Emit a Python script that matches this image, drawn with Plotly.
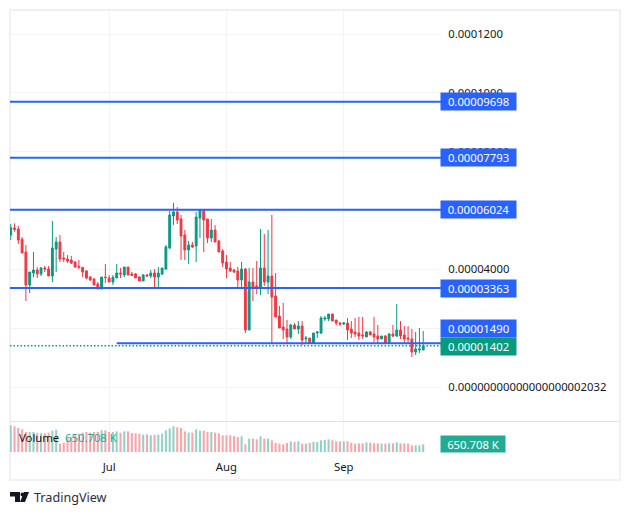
import pandas as pd
import plotly.graph_objects as go

# daily candles, prices in millionths (1e-6)
dates = pd.date_range("2024-06-05", periods=110, freq="D")

opens = [51.68, 54.06, 53.72, 50.2, 45.9, 34.68, 38.76, 39.78, 38.42, 40.46,
         40.12, 37.74, 46.92, 49.3, 43.86, 43.52, 43.18, 42.5, 41.0, 40.7,
         39.44, 37.4, 36.72, 35.02, 33.32, 37.4, 37.06, 35.7, 37.06, 38.76,
         38.08, 40.8, 38.42, 38.42, 37.4, 36.04, 38.08, 37.74, 38.76, 37.4,
         38.42, 40.12, 47.26, 58.14, 59.5, 57.12, 51.68, 46.58, 48.28, 47.94,
         57.46, 60.18, 57.12, 50.66, 53.38, 49.64, 46.24, 42.5, 40.46, 39.78,
         39.44, 36.38, 40.12, 19.38, 35.7, 34.34, 34.0, 40.46, 35.7, 37.74,
         30.94, 24.14, 20.4, 19.72, 17.0, 21.08, 19.72, 20.74, 16.32, 16.66,
         14.96, 18.36, 18.36, 23.12, 23.12, 24.82, 22.78, 21.76, 21.42, 21.76,
         19.72, 18.7, 18.36, 17.68, 17.0, 18.7, 18.02, 17.34, 16.32, 17.34,
         14.96, 18.02, 17.34, 19.38, 17.68, 16.66, 16.32, 11.9, 12.58, 12.58]
highs = [55.42, 55.65, 54.74, 51.0, 48.28, 39.1, 45.9, 40.8, 40.8, 41.14,
         41.14, 56.44, 51.0, 51.68, 45.9, 44.88, 44.54, 42.84, 43.18, 40.8,
         39.78, 37.74, 37.06, 35.7, 37.4, 41.82, 38.08, 38.08, 41.82, 40.46,
         40.8, 40.8, 39.1, 38.76, 37.74, 38.42, 38.42, 39.78, 40.12, 40.8,
         40.46, 48.28, 59.84, 62.56, 61.2, 58.48, 53.38, 49.64, 49.3, 59.5,
         60.52, 60.52, 57.12, 57.12, 55.08, 49.98, 46.92, 44.88, 42.5, 40.12,
         40.8, 42.5, 40.46, 40.46, 40.46, 42.84, 53.72, 52.02, 53.38, 58.48,
         38.76, 27.54, 28.56, 22.78, 21.42, 21.76, 22.44, 22.44, 17.34, 16.66,
         18.36, 19.04, 24.14, 24.14, 24.82, 24.82, 22.78, 22.1, 22.1, 23.46,
         22.44, 23.46, 23.8, 23.8, 19.04, 19.04, 23.8, 21.08, 17.34, 17.68,
         18.36, 21.08, 28.22, 22.44, 20.74, 20.74, 19.72, 18.7, 20.06, 19.04]
lows = [49.98, 52.8, 48.62, 45.56, 29.24, 31.96, 37.3, 37.06, 37.74, 39.1,
        37.74, 35.7, 39.1, 42.5, 42.5, 42.16, 41.82, 40.46, 40.12, 37.4,
        36.72, 36.04, 34.68, 33.32, 33.32, 35.36, 35.7, 34.68, 37.06, 37.06,
        37.4, 38.08, 37.74, 37.06, 36.04, 36.04, 37.74, 37.06, 33.32, 33.66,
        38.08, 39.78, 46.92, 55.08, 55.42, 43.18, 43.18, 41.82, 47.26, 42.5,
        50.66, 45.9, 48.96, 49.3, 49.3, 45.9, 40.8, 37.06, 39.1, 38.76,
        33.66, 33.66, 18.36, 19.38, 29.24, 31.62, 31.28, 34.34, 31.62, 14.96,
        23.8, 20.06, 16.32, 14.96, 16.32, 19.72, 18.02, 14.28, 14.96, 14.62,
        14.96, 16.66, 18.02, 22.44, 22.44, 22.44, 21.08, 20.74, 21.08, 15.98,
        16.66, 17.0, 15.98, 16.32, 17.0, 17.68, 15.3, 14.96, 16.32, 14.96,
        14.96, 17.0, 17.0, 16.32, 14.96, 14.96, 10.2, 10.88, 11.56, 12.58]
closes = [54.17, 53.6, 49.98, 45.56, 34.68, 39.1, 39.78, 38.42, 40.46, 40.12,
          37.74, 47.26, 49.3, 43.52, 43.52, 42.84, 42.16, 40.8, 40.8, 39.1,
          37.06, 36.38, 34.68, 33.32, 37.4, 37.2, 35.7, 37.3, 38.76, 38.42,
          40.8, 38.08, 37.97, 37.06, 36.04, 38.08, 37.74, 38.76, 37.4, 38.76,
          40.46, 47.6, 58.48, 59.5, 56.78, 51.34, 46.58, 48.28, 47.6, 57.8,
          60.18, 56.78, 50.66, 53.38, 49.3, 45.9, 42.16, 40.12, 39.44, 39.1,
          36.38, 40.12, 19.38, 35.7, 34.0, 34.0, 40.46, 35.7, 37.74, 30.6,
          23.8, 20.06, 19.38, 17.0, 21.08, 19.72, 20.74, 15.98, 16.66, 14.96,
          18.36, 18.7, 23.46, 23.46, 24.82, 22.44, 21.76, 21.42, 21.76, 19.38,
          18.36, 18.02, 17.34, 17.34, 18.7, 17.68, 17.0, 16.32, 17.34, 14.96,
          18.02, 17.34, 19.38, 17.34, 16.32, 16.32, 11.9, 12.92, 12.92, 13.94]
# volume in thousands
volumes = [2264, 2179, 2038, 1924, 1698, 1698, 1698, 1613, 1585, 1585,
           1641, 1811, 1868, 708, 792, 1132, 1274, 1415, 1557, 1641,
           1698, 1641, 1698, 1698, 1840, 1840, 1698, 1698, 1755, 1641,
           1755, 1755, 1613, 1585, 1557, 1472, 1500, 1415, 1443, 1472,
           1557, 1840, 2009, 2179, 2094, 2038, 1755, 1641, 1641, 1924,
           1811, 1811, 1698, 1698, 1641, 1585, 1415, 1415, 1415, 1358,
           1274, 1330, 651, 1132, 1132, 1075, 1330, 1132, 1132, 990,
           764, 708, 651, 764, 906, 849, 906, 708, 708, 764,
           849, 849, 990, 1019, 1075, 990, 906, 906, 906, 906,
           792, 708, 736, 736, 821, 792, 736, 736, 708, 708,
           736, 736, 821, 736, 736, 708, 566, 566, 566, 651]

price_ticks = [120, 100, 80, 60, 40, 20, 0]
price_ticklabels = ["0.0001200", "0.0001000", "0.00008000", "0.00006000", "0.00004000",
                    "0.00002000", "0.0000000000000000000" + "2032"]
month_ticks = ["2024-07-01", "2024-08-01", "2024-09-01"]
month_labels = ["Jul", "Aug", "Sep"]

full_levels = [96.98, 77.93, 60.24, 33.63]
full_labels = ["0.00009698", "0.00007793", "0.00006024", "0.00003363"]
short_level = 14.90
short_label = "0.00001490"
short_label_pos = 19.8  # axis label sits above the line, pushed up by the last price
short_start = "2024-07-03"
last_price = 14.02
last_label = "0.00001402"
last_label_pos = 13.8
volume_label = "650.708 K"

BLUE = "#2962ff"
GREEN = "#089981"
RED = "#f23645"
FONT = "Noto Sans"
FS = 11.3
x_range = ["2024-06-04 19:12", "2024-09-26 16:48"]


def fx(px):
    return px / 630


def fy(px):
    return 1 - px / 515


fig = go.Figure()

fig.add_trace(go.Candlestick(x=dates, open=opens, high=highs, low=lows, close=closes,
                             increasing=dict(line=dict(color=GREEN, width=1), fillcolor=GREEN),
                             decreasing=dict(line=dict(color=RED, width=1), fillcolor=RED),
                             whiskerwidth=0, showlegend=False))

vol_colors = ["#92d2c6" if c >= o else "#faa5aa" for o, c in zip(opens, closes)]
fig.add_trace(go.Bar(x=dates, y=volumes, marker=dict(color=vol_colors, line_width=0),
                     width=0.55 * 86400000, yaxis="y2", showlegend=False))

# lines over the candles
for lv in full_levels:
    fig.add_trace(go.Scatter(x=x_range, y=[lv, lv], mode="lines", showlegend=False,
                             line=dict(color=BLUE, width=2)))
fig.add_trace(go.Scatter(x=[short_start, x_range[1]], y=[short_level, short_level], mode="lines",
                         showlegend=False, line=dict(color=BLUE, width=2)))
fig.add_trace(go.Scatter(x=x_range, y=[last_price, last_price], mode="lines", showlegend=False,
                         line=dict(color=GREEN, width=1.5, dash="1.5px,2px")))


def price_box(text, level, color):
    fig.add_annotation(x=fx(440), xref="paper", xanchor="left", y=level, yref="y", yanchor="middle",
                       text=text, showarrow=False, bgcolor=color, width=75, height=17, borderpad=0,
                       font=dict(family=FONT, size=FS, color="white"))


for lab, lv in zip(full_labels, full_levels):
    price_box(lab, lv, BLUE)
price_box(short_label, short_label_pos, BLUE)
price_box(last_label, last_label_pos, GREEN)


def label(text, px, py, size=FS, color="#131722", **kw):
    fig.add_annotation(x=fx(px), xref="paper", xanchor="left", y=fy(py), yref="paper", yanchor="middle",
                       text=text, showarrow=False, font=dict(family=FONT, size=size, color=color), **kw)


# volume legend and its axis box
label("Volume", 17, 437)
label(volume_label, 62.5, 437, color="#22ab94")
label(volume_label, 440, 444, color="white", bgcolor="#22ab94", width=64, height=16, borderpad=0)
label("TradingView", 31.5, 497, size=12.6, color="#2a2e39")

# frame, pane separator, logo
fig.add_shape(type="rect", xref="paper", yref="paper", x0=fx(10), x1=fx(620), y0=fy(480), y1=fy(10),
              line=dict(color="#f0f0f5", width=2), layer="below")
fig.add_shape(type="line", xref="paper", yref="paper", x0=fx(10), x1=fx(620), y0=fy(421.5), y1=fy(421.5),
              line=dict(color="#e0e3eb", width=1), layer="below")
logo = [[(10, 492), (20, 492), (20, 502), (15, 502), (15, 496.5), (10, 496.5)],
        [(24, 492), (29, 492), (25, 502), (20, 502)]]
for poly in logo:
    d = "M " + " L ".join(f"{fx(a):.5f},{fy(b):.5f}" for a, b in poly) + " Z"
    fig.add_shape(type="path", path=d, xref="paper", yref="paper", fillcolor="#131722", line_width=0)
fig.add_shape(type="circle", xref="paper", yref="paper", x0=fx(20.5), x1=fx(24.5), y0=fy(496.5), y1=fy(492.5),
              fillcolor="#131722", line_width=0)

fig.update_layout(width=630, height=515, margin=dict(l=0, r=0, t=0, b=0), autosize=False,
                  paper_bgcolor="white", plot_bgcolor="rgba(0,0,0,0)", showlegend=False,
                  font=dict(family=FONT, size=FS, color="#131722"),
                  xaxis=dict(domain=[fx(10), fx(441)], range=x_range, anchor="y2", type="date",
                             rangeslider=dict(visible=False), tickvals=month_ticks, ticktext=month_labels,
                             showgrid=True, gridcolor="#f3f3f5", gridwidth=1, zeroline=False,
                             ticks="outside", ticklen=4, tickcolor="rgba(0,0,0,0)", showline=False,
                             tickfont=dict(family=FONT, size=FS, color="#131722")),
                  yaxis=dict(domain=[fy(421), fy(11)], range=[-11.56, 127.85], anchor="x", side="right",
                             tickvals=price_ticks, ticktext=price_ticklabels, showgrid=True,
                             gridcolor="#f3f3f5", gridwidth=1, zeroline=False, showline=False,
                             ticks="outside", ticklen=4, tickcolor="rgba(0,0,0,0)",
                             tickfont=dict(family=FONT, size=FS, color="#131722")),
                  yaxis2=dict(domain=[fy(452), fy(422)], range=[0, 2547], anchor="x", side="right",
                              showticklabels=False, showgrid=False, zeroline=False, showline=False))

fig.write_html("out.html", config={"displayModeBar": False},
               post_script="document.body.style.margin='0';")
